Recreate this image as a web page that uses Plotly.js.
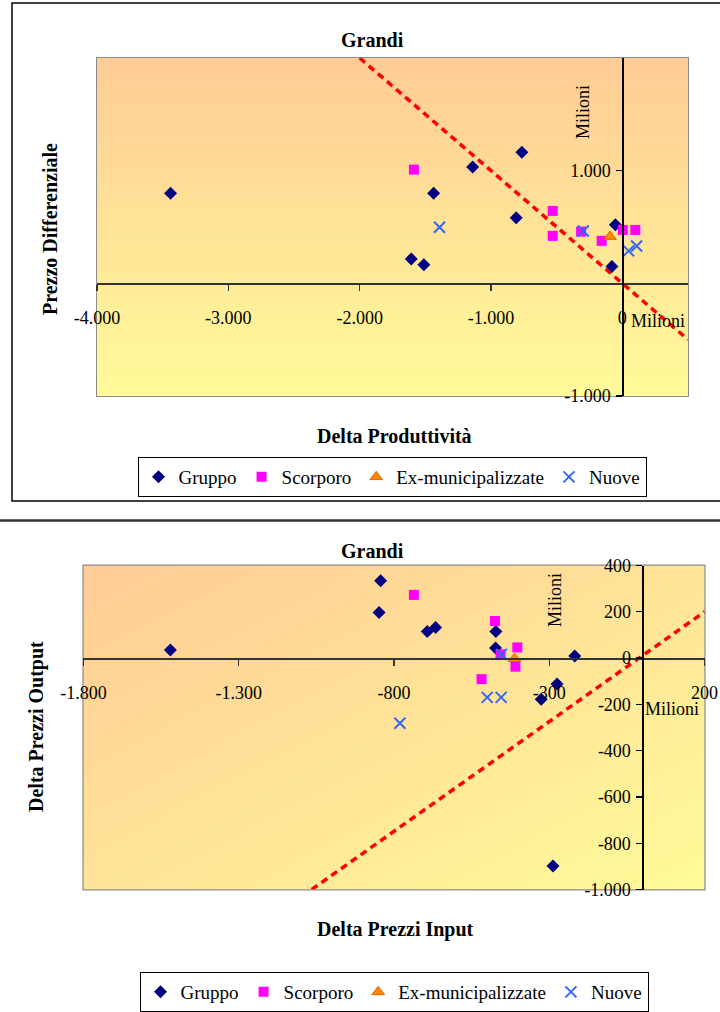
<!DOCTYPE html>
<html>
<head>
<meta charset="utf-8">
<script src="https://cdn.plot.ly/plotly-3.0.1.min.js"></script>
<style>
  html, body { margin: 0; padding: 0; background: #ffffff; }
  #chart { width: 720px; height: 1012px; }
</style>
</head>
<body>
<div id="chart"></div>
<script>
// ---- Grandi: Prezzo Differenziale vs Delta Produttività (milioni) ----
const gruppoProdX   = [-3440, -1140, -765, -1437, -1607, -1511, -808, -53, -79];
const gruppoProdY   = [800, 1033, 1163, 800, 217, 164, 581, 519, 149];
const scorporoProdX = [-1587, -530, -530, -314, -157, 3, 99];
const scorporoProdY = [1009, 643, 421, 459, 377, 474, 474];
const exMunProdX    = [-94];
const exMunProdY    = [415];
const nuoveProdX    = [-1392, -297, 48, 109];
const nuoveProdY    = [498, 465, 288, 332];
const bisettProdX   = [-2000, 500];
const bisettProdY   = [2000, -500];

const prodXRange = [-4000, 500];
const prodYRange = [-1000, 2000];
const prodXTicks = [-4000, -3000, -2000, -1000, 0];
const prodXTickText = ['-4.000', '-3.000', '-2.000', '-1.000', '0'];
const prodYTicks = [-1000, 1000];
const prodYTickText = ['-1.000', '1.000'];

// ---- Grandi: Delta Prezzi Output vs Delta Prezzi Input (milioni) ----
const gruppoPrezziX   = [-1520, -843, -848, -693, -666, -472, -473, -326, -275, -218, -288];
const gruppoPrezziY   = [35, 334, 197, 115, 132, 115, 44, -178, -112, 9, -898];
const scorporoPrezziX = [-736, -475, -457, -403, -409, -518];
const scorporoPrezziY = [273, 160, 16, 46, -37, -91];
const exMunPrezziX    = [-412];
const exMunPrezziY    = [-3];
const nuovePrezziX    = [-781, -454, -500, -455];
const nuovePrezziY    = [-282, 16, -170, -170];
const bisettPrezziX   = [-1065, 200];
const bisettPrezziY   = [-1000, 200];

const prezziXRange = [-1800, 200];
const prezziYRange = [-1000, 400];
const prezziXTicks = [-1800, -1300, -800, -300, 200];
const prezziXTickText = ['-1.800', '-1.300', '-800', '-300', '200'];
const prezziYTicks = [400, 200, 0, -200, -400, -600, -800, -1000];
const prezziYTickText = ['400', '200', '0', '-200', '-400', '-600', '-800', '-1.000'];

const seriesNames = ['Gruppo', 'Scorporo', 'Ex-municipalizzate', 'Nuove'];

// page geometry helpers (pixels -> paper fractions)
const W = 720, H = 1012;
const fx = px => px / W;
const fy = py => 1 - py / H;

const SERIF = 'Liberation Serif, Times New Roman, serif';

const topXDom = [fx(97), fx(688)];
const topYDom = [fy(396), fy(58)];
const botXDom = [fx(83.4), fx(704.6)];
const botYDom = [fy(889.5), fy(565.5)];

// position of an axis crossing at zero, as a paper fraction
function crossAt(dom, range) {
  return dom[0] + (0 - range[0]) / (range[1] - range[0]) * (dom[1] - dom[0]);
}

const styles = [
  { symbol: 'diamond', size: 10, color: '#000080', line: { width: 0 } },
  { symbol: 'square', size: 10, color: '#FF00FF', line: { width: 0 } },
  { symbol: 'triangle-up', size: 11, color: '#FF8C00', line: { width: 1, color: '#E06000' } },
  { symbol: 'x-thin-open', size: 11, color: '#3366FF', line: { width: 2, color: '#3366FF' } }
];

function scatterSet(xs, ys, xa, ya, legendId, showLegend) {
  return xs.map((x, i) => ({
    type: 'scatter', mode: 'markers',
    x: x, y: ys[i], xaxis: xa, yaxis: ya,
    name: seriesNames[i], legend: legendId, showlegend: showLegend,
    marker: styles[i], cliponaxis: false
  }));
}

const lineStyle = { color: '#FF0000', width: 3.5, dash: '7px,5px' };

const data = [].concat(
  [{ type: 'scatter', mode: 'lines', x: bisettProdX, y: bisettProdY, xaxis: 'x', yaxis: 'y',
     line: lineStyle, showlegend: false, hoverinfo: 'skip' }],
  scatterSet([gruppoProdX, scorporoProdX, exMunProdX, nuoveProdX],
             [gruppoProdY, scorporoProdY, exMunProdY, nuoveProdY], 'x', 'y', 'legend', true),
  [{ type: 'scatter', mode: 'lines', x: bisettPrezziX, y: bisettPrezziY, xaxis: 'x2', yaxis: 'y2',
     line: lineStyle, showlegend: false, hoverinfo: 'skip' }],
  scatterSet([gruppoPrezziX, scorporoPrezziX, exMunPrezziX, nuovePrezziX],
             [gruppoPrezziY, scorporoPrezziY, exMunPrezziY, nuovePrezziY], 'x2', 'y2', 'legend2', true)
);

const tickFont = { family: SERIF, size: 18, color: '#000000' };

function axisX(dom, range, tv, tt, pos) {
  return {
    domain: dom, range: range, anchor: 'free', position: pos,
    showgrid: false, zeroline: false, showline: true, linecolor: '#333333', linewidth: 1.5,
    ticks: 'outside', ticklen: 6, tickwidth: 1.5, tickcolor: '#333333',
    tickvals: tv, ticktext: tt, tickfont: tickFont, ticklabelstandoff: 12,
    fixedrange: true
  };
}
function axisY(dom, range, tv, tt, pos) {
  return {
    domain: dom, range: range, anchor: 'free', position: pos,
    showgrid: false, zeroline: false, showline: true, linecolor: '#000000', linewidth: 1.2,
    ticks: 'outside', ticklen: 6, tickwidth: 1.2, tickcolor: '#000000',
    tickvals: tv, ticktext: tt, tickfont: tickFont, ticklabelstandoff: 2,
    fixedrange: true
  };
}

function gradientImage(x1, y1, x2, y2) {
  const svg = '<svg xmlns="http://www.w3.org/2000/svg" width="100" height="100" preserveAspectRatio="none">' +
    '<defs><linearGradient id="g" x1="' + x1 + '" y1="' + y1 + '" x2="' + x2 + '" y2="' + y2 + '">' +
    '<stop offset="0" stop-color="#FFCB96"/><stop offset="1" stop-color="#FFFB99"/></linearGradient></defs>' +
    '<rect width="100" height="100" fill="url(#g)"/></svg>';
  return 'data:image/svg+xml;charset=utf-8,' + encodeURIComponent(svg);
}

const boldFont = { family: SERIF, size: 20, color: '#000000', weight: 'bold' };
const plainFont = { family: SERIF, size: 18, color: '#000000' };

function ann(text, px, py, font, angle) {
  return { text: text, x: fx(px), y: fy(py), xref: 'paper', yref: 'paper',
           xanchor: 'center', yanchor: 'middle', showarrow: false, font: font, textangle: angle || 0 };
}

const legendBase = {
  orientation: 'h', xanchor: 'center', yanchor: 'top',
  bgcolor: '#FFFFFF', bordercolor: '#000000', borderwidth: 1,
  font: { family: SERIF, size: 19, color: '#000000' },
  itemclick: false, itemdoubleclick: false
};

const layout = {
  width: W, height: H,
  margin: { l: 0, r: 0, t: 0, b: 0, pad: 0 },
  paper_bgcolor: '#FFFFFF', plot_bgcolor: 'rgba(0,0,0,0)',
  showlegend: true,
  xaxis: axisX(topXDom, prodXRange, prodXTicks, prodXTickText, crossAt(topYDom, prodYRange)),
  yaxis: axisY(topYDom, prodYRange, prodYTicks, prodYTickText, crossAt(topXDom, prodXRange)),
  xaxis2: axisX(botXDom, prezziXRange, prezziXTicks, prezziXTickText, crossAt(botYDom, prezziYRange)),
  yaxis2: axisY(botYDom, prezziYRange, prezziYTicks, prezziYTickText, crossAt(botXDom, prezziXRange)),
  legend: Object.assign({}, legendBase, { x: fx(392), y: fy(457) }),
  legend2: Object.assign({}, legendBase, { x: fx(394), y: fy(972) }),
  images: [
    { source: gradientImage(0, 0, 0, 1), xref: 'x domain', yref: 'y domain', x: 0, y: 1,
      sizex: 1, sizey: 1, xanchor: 'left', yanchor: 'top', sizing: 'stretch', layer: 'below' },
    { source: gradientImage(0, 0, 1, 1), xref: 'x2 domain', yref: 'y2 domain', x: 0, y: 1,
      sizex: 1, sizey: 1, xanchor: 'left', yanchor: 'top', sizing: 'stretch', layer: 'below' }
  ],
  shapes: [
    // chart frames
    { type: 'rect', xref: 'paper', yref: 'paper', x0: fx(12), x1: fx(726), y0: fy(501), y1: fy(3),
      line: { color: '#000000', width: 1.5 }, layer: 'below' },
    { type: 'line', xref: 'paper', yref: 'paper', x0: fx(-5), x1: fx(726), y0: fy(520.5), y1: fy(520.5),
      line: { color: '#333333', width: 2.5 }, layer: 'below' },
    // plot area borders
    { type: 'rect', xref: 'x domain', yref: 'y domain', x0: 0, x1: 1, y0: 0, y1: 1,
      line: { color: '#8C8C8C', width: 2 }, layer: 'below' },
    { type: 'rect', xref: 'x2 domain', yref: 'y2 domain', x0: 0, x1: 1, y0: 0, y1: 1,
      line: { color: '#8C8C8C', width: 2 }, layer: 'below' }
  ],
  annotations: [
    ann('Grandi', 372, 40, boldFont),
    ann('Delta Produttività', 394, 436, boldFont),
    ann('Prezzo Differenziale', 50, 229, boldFont, -90),
    ann('Milioni', 583, 112, plainFont, -90),
    ann('Milioni', 658, 321, plainFont),
    ann('Grandi', 372, 551, boldFont),
    ann('Delta Prezzi Input', 395, 929, boldFont),
    ann('Delta Prezzi Output', 36, 727, boldFont, -90),
    ann('Milioni', 555, 600, plainFont, -90),
    ann('Milioni', 672, 709, plainFont)
  ]
};

Plotly.newPlot('chart', data, layout, { displayModeBar: false, staticPlot: true });
</script>
</body>
</html>
